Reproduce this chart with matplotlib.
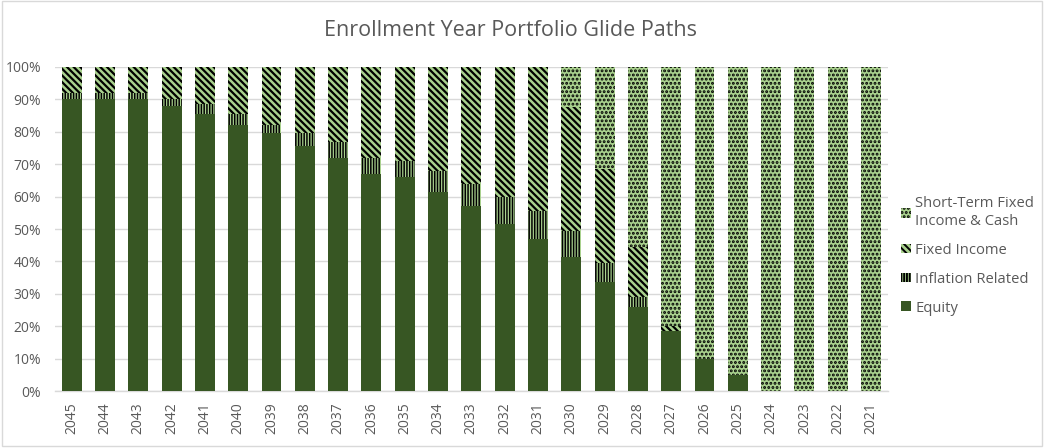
import matplotlib
matplotlib.use("Agg")
import matplotlib.pyplot as plt
from matplotlib.patches import Rectangle
from matplotlib.ticker import PercentFormatter
import numpy as np

years = ["2045", "2044", "2043", "2042", "2041", "2040", "2039", "2038", "2037",
         "2036", "2035", "2034", "2033", "2032", "2031", "2030", "2029", "2028",
         "2027", "2026", "2025", "2024", "2023", "2022", "2021"]
equity = [90, 90, 90, 88, 85.5, 82, 79.5, 75.5, 72, 67, 66, 61.5, 57, 51.5, 47,
          41.5, 33.5, 26, 18.5, 10, 5, 0, 0, 0, 0]
inflation = [2, 2, 2, 2, 3, 3.5, 2.5, 4, 5, 5, 5, 6.5, 7, 8.5, 8.5,
             8, 6, 3, 0, 0, 0, 0, 0, 0, 0]
fixed_income = [8, 8, 8, 10, 11.5, 14.5, 18, 20.5, 23, 28, 29, 32, 36, 40, 44.5,
                38, 29, 15.5, 1.5, 0, 0, 0, 0, 0, 0]
short_term = [0, 0, 0, 0, 0, 0, 0, 0, 0, 0, 0, 0, 0, 0, 0,
              12.5, 31.5, 55.5, 80, 90, 95, 100, 100, 100, 100]

DARK = "#375623"
LIGHT = "#A9D18E"
GRID = "#D9D9D9"
TXT = "#595959"

plt.rcParams["font.family"] = ["Open Sans", "DejaVu Sans"]

fig = plt.figure(figsize=(10.45, 4.48), dpi=100)
ax = fig.add_axes([55 / 1045, 57 / 448, (887.7 - 55) / 1045, (391 - 67) / 448])

x = np.arange(len(years))
w = 0.6
eq = np.array(equity) / 100
inf = np.array(inflation) / 100
fi = np.array(fixed_income) / 100
st = np.array(short_term) / 100

ax.bar(x, eq, w, color=DARK, linewidth=0, zorder=3, label="Equity")
plt.rcParams["hatch.linewidth"] = 1.1
ax.bar(x, inf, w, bottom=eq, color=LIGHT, edgecolor="black", hatch="||||||",
       linewidth=0, zorder=3, label="Inflation Related")
plt.rcParams["hatch.linewidth"] = 1.6
ax.bar(x, fi, w, bottom=eq + inf, color=LIGHT, edgecolor="black", hatch="\\\\\\\\\\",
       linewidth=0, zorder=3, label="Fixed Income")
plt.rcParams["hatch.linewidth"] = 1.4
ax.bar(x, st, w, bottom=eq + inf + fi, color=LIGHT, edgecolor="black", hatch="....",
       linewidth=0, zorder=3, label="Short-Term Fixed\nIncome & Cash")

ax.set_xlim(-0.5, len(years) - 0.5)
ax.set_ylim(0, 1)
ax.set_yticks(np.arange(0, 1.01, 0.1))
ax.yaxis.set_major_formatter(PercentFormatter(1.0, decimals=0))
ax.set_xticks(x)
ax.set_xticklabels(years, rotation=90)
ax.tick_params(axis="both", length=0, colors=TXT, labelsize=10)
ax.tick_params(axis="y", pad=10)
ax.tick_params(axis="x", pad=8)
for s in ["left", "right", "top"]:
    ax.spines[s].set_visible(False)
ax.spines["bottom"].set_color(GRID)
ax.spines["bottom"].set_linewidth(1)
ax.grid(axis="y", color=GRID, linewidth=1, zorder=0)
ax.set_axisbelow(True)

handles, labels = ax.get_legend_handles_labels()
leg = fig.legend(handles[::-1], labels[::-1], loc="center left",
                 bbox_to_anchor=(888 / 1045, 1 - 256 / 448), frameon=False, fontsize=10.6,
                 handlelength=0.65, handleheight=0.65, handletextpad=0.3,
                 labelspacing=0.95, labelcolor=TXT)

fig.text(510 / 1045, 1 - 31 / 448, "Enrollment Year Portfolio Glide Paths",
         ha="center", va="center", fontsize=15.5, color=TXT)

fig.patches.append(Rectangle((0.002, 0.004), 0.995, 0.993, transform=fig.transFigure,
                             fill=False, edgecolor=GRID, linewidth=1))

fig.savefig("out.png", dpi=100, facecolor="white")
